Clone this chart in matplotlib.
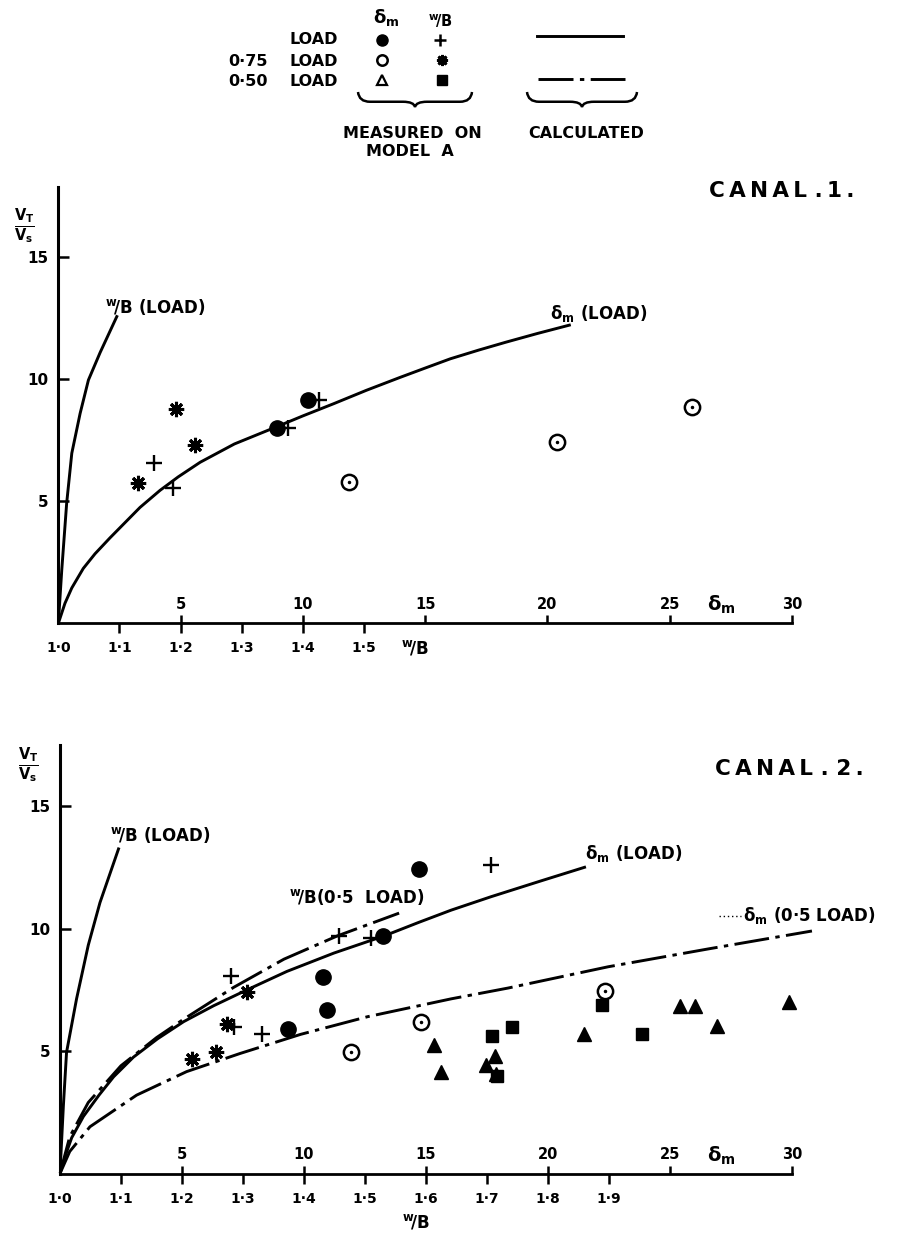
import matplotlib
matplotlib.use('Agg')
import matplotlib.pyplot as plt
from matplotlib.path import Path
from matplotlib.patches import PathPatch
import numpy as np

plt.rcParams['font.family'] = 'DejaVu Sans'
plt.rcParams['font.weight'] = 'bold'
plt.rcParams['mathtext.fontset'] = 'dejavusans'
plt.rcParams['mathtext.default'] = 'bf'

# ---------------- data ----------------
# x values: delta_m series in delta_m units, w/B series in w/B units
# canal 1 - calculated curves
c1_wb_load_w = [1.0, 1.0056, 1.0136, 1.022, 1.0356, 1.0492, 1.0684, 1.0956]
c1_wb_load_v = [0.0, 2.19, 4.92, 6.97, 8.6, 9.97, 11.1, 12.57]
c1_dm_load_d = [0.0, 0.27, 0.55, 1.02, 1.5, 2.11, 2.7, 3.34, 4.16, 4.9, 5.8, 7.2, 8.94,
                10.0, 11.26, 12.6, 13.98, 15.0, 16.03, 17.2, 18.3, 19.6, 20.9]
c1_dm_load_v = [0.0, 0.82, 1.45, 2.25, 2.85, 3.5, 4.1, 4.75, 5.45, 6.0, 6.6, 7.35, 8.06,
                8.5, 9.0, 9.55, 10.08, 10.46, 10.84, 11.2, 11.52, 11.88, 12.22]
# canal 1 - measured on model A
c1_dm_full_d = [8.94, 10.23]
c1_dm_full_v = [7.99, 9.15]
c1_wb_full_w = [1.157, 1.188, 1.376, 1.427]
c1_wb_full_v = [6.56, 5.53, 7.99, 9.15]
c1_dm_75_d = [11.87, 20.38, 25.9]
c1_dm_75_v = [5.81, 7.44, 8.88]
c1_wb_75_w = [1.131, 1.193, 1.224]
c1_wb_75_v = [5.74, 8.77, 7.31]

# canal 2 - calculated curves
c2_wb_load_w = [1.0, 1.0056, 1.0108, 1.0272, 1.0464, 1.0656, 1.096]
c2_wb_load_v = [0.0, 2.77, 4.95, 7.13, 9.32, 11.06, 13.25]
c2_dm_load_d = [0.0, 0.27, 0.48, 0.96, 1.6, 2.2, 3.01, 4.0, 5.07, 6.3, 7.67, 9.3, 11.23,
                13.29, 14.7, 16.03, 17.67, 19.73, 21.5]
c2_dm_load_v = [0.0, 0.87, 1.46, 2.33, 3.2, 3.95, 4.75, 5.5, 6.2, 6.85, 7.5, 8.25, 9.0,
                9.7, 10.25, 10.75, 11.3, 11.95, 12.5]
c2_wb_half_w = [1.0, 1.016, 1.0464, 1.1, 1.1584, 1.2028, 1.2848, 1.3672, 1.4548, 1.556]
c2_wb_half_v = [0.0, 1.5, 2.9, 4.4, 5.55, 6.3, 7.6, 8.75, 9.7, 10.63]
c2_dm_half_d = [0.0, 0.4, 1.23, 3.14, 5.19, 7.38, 9.86, 12.6, 16.03, 18.36, 22.47, 26.58, 30.82]
c2_dm_half_v = [0.0, 0.9, 1.91, 3.2, 4.16, 4.9, 5.68, 6.4, 7.13, 7.57, 8.44, 9.17, 9.9]
# canal 2 - measured on model A
c2_dm_full_d = [14.73, 13.22, 10.79, 10.93, 9.34]
c2_dm_full_v = [12.45, 9.68, 8.03, 6.67, 5.90]
c2_wb_full_w = [1.280, 1.457, 1.510, 1.332, 1.285, 1.706]
c2_wb_full_v = [8.08, 9.68, 9.61, 5.68, 5.97, 12.59]
c2_wb_75_w = [1.307, 1.274, 1.216, 1.255]
c2_wb_75_v = [7.42, 6.11, 4.66, 4.95]
c2_dm_75_d = [11.92, 14.79, 22.33]
c2_dm_75_v = [4.95, 6.19, 7.45]
c2_dm_50_d = [15.34, 15.62, 17.47, 17.81, 17.88, 21.48, 25.41, 26.03, 26.92, 29.89]
c2_dm_50_v = [5.24, 4.15, 4.44, 4.80, 4.08, 5.68, 6.84, 6.84, 6.04, 6.99]
c2_wb_50_w = [1.708, 1.741, 1.888, 1.954, 1.717]
c2_wb_50_v = [5.60, 6.0, 6.87, 5.71, 4.0]

dm_ticks = [5, 10, 15, 20, 25, 30]
c1_wb_ticks = [1.0, 1.1, 1.2, 1.3, 1.4, 1.5]
c2_wb_ticks = [1.0, 1.1, 1.2, 1.3, 1.4, 1.5, 1.6, 1.7, 1.8, 1.9]
v_ticks = [5, 10, 15]


def w2d(w):
    return (np.asarray(w, dtype=float) - 1.0) * 25.0


def d2w(d):
    return 1.0 + np.asarray(d, dtype=float) / 25.0


WB = r'$^{w}\!/B$'
DM = r'$\delta_{m}$'
DASHDOT = (0, (12, 2.2, 1.5, 2.2))
LW = 2.1
TS = '\u2009'


def spaced(s):
    return TS.join(s)


def setup(ax, ytop, wb_ticks, wb_label_y):
    ax.set_xlim(0, 32)
    ax.set_ylim(0, ytop)
    ax.patch.set_visible(False)
    for s in ['top', 'right']:
        ax.spines[s].set_visible(False)
    ax.spines['left'].set_linewidth(2.2)
    ax.spines['bottom'].set_linewidth(2.0)
    ax.spines['bottom'].set_bounds(0, 30)
    ax.set_yticks(v_ticks)
    ax.tick_params(axis='y', direction='in', length=8, width=1.8, labelsize=11, pad=7)
    ax.set_xticks(dm_ticks)
    ax.tick_params(axis='x', direction='in', length=6, width=1.8, labelsize=10.5, pad=-19)
    sec = ax.secondary_xaxis('bottom', functions=(d2w, w2d))
    sec.set_xticks(wb_ticks)
    sec.set_xticklabels([('%.1f' % t).replace('.', '\u00b7') for t in wb_ticks])
    sec.spines['bottom'].set_visible(False)
    sec.tick_params(direction='out', length=7, width=1.8, labelsize=10, pad=6)
    sec.xaxis.get_major_ticks()[0].tick1line.set_visible(False)
    ax.annotate(DM, xy=(27.1, 0), xytext=(0, 13), textcoords='offset points',
                ha='center', va='center', fontsize=14, annotation_clip=False)
    ax.annotate(WB, xy=(14.6, 0), xytext=(0, wb_label_y), textcoords='offset points',
                ha='center', va='center', fontsize=12, annotation_clip=False)


def open_dot(ax, x, y):
    ax.plot(x, y, 'o', mfc='none', mec='black', ms=11, mew=1.8, ls='none')
    ax.plot(x, y, '.', color='black', ms=3, ls='none')


fig = plt.figure(figsize=(8.99, 12.37), dpi=100)

# ---------------- legend block (pixel coords) ----------------
lg = fig.add_axes([0, 0, 1, 1])
lg.set_xlim(0, 899)
lg.set_ylim(1237, 0)
lg.axis('off')
for txt, y in [('LOAD', 39), ('LOAD', 61), ('LOAD', 81)]:
    lg.text(338, y, txt, ha='right', va='center', fontsize=11.5)
lg.text(268, 61, '0\u00b775', ha='right', va='center', fontsize=11.5)
lg.text(268, 81, '0\u00b750', ha='right', va='center', fontsize=11.5)
lg.text(386, 18, DM, ha='center', va='center', fontsize=13)
lg.text(440, 21, WB, ha='center', va='center', fontsize=10.5)
lg.plot([382], [40], 'o', color='black', ms=8)
lg.plot([440], [40], '+', color='black', ms=9, mew=1.8)
lg.plot([382], [60], 'o', mfc='none', mec='black', ms=7.5, mew=1.8)
lg.plot([442], [60], marker=(8, 2, 0), color='black', ms=8, mew=2)
lg.plot([382], [80], '^', mfc='none', mec='black', ms=6.5, mew=1.6)
lg.plot([442], [80], 's', color='black', ms=7)
lg.plot([537, 623], [36, 36], color='black', lw=LW)
lg.plot([538, 625], [79, 79], color='black', lw=LW, ls=DASHDOT)


def brace(x0, x1, y0, h, c=12):
    xm = (x0 + x1) / 2.0
    yb = y0 + 0.65 * h
    verts = [(x0, y0), (x0 + 1, yb), (x0 + c, yb),
             (xm - c, yb),
             (xm - 1, yb), (xm, y0 + h),
             (xm + 1, yb), (xm + c, yb),
             (x1 - c, yb),
             (x1 - 1, yb), (x1, y0)]
    codes = [Path.MOVETO, Path.CURVE3, Path.CURVE3, Path.LINETO,
             Path.CURVE3, Path.CURVE3, Path.CURVE3, Path.CURVE3,
             Path.LINETO, Path.CURVE3, Path.CURVE3]
    lg.add_patch(PathPatch(Path(verts, codes), fc='none', ec='black', lw=1.8))


brace(358, 472, 92, 15)
brace(527, 637, 92, 15)
lg.text(412, 133, 'MEASURED  ON', ha='center', va='center', fontsize=11.5)
lg.text(410, 151, 'MODEL  A', ha='center', va='center', fontsize=11.5)
lg.text(586, 133, 'CALCULATED', ha='center', va='center', fontsize=11.5)

# ---------------- canal 1 ----------------
ax1 = fig.add_axes([0.0649, 0.4961, 0.8703, 0.3531])
setup(ax1, 17.9, c1_wb_ticks, -18)
ax1.plot(w2d(c1_wb_load_w), c1_wb_load_v, color='black', lw=LW)
ax1.plot(c1_dm_load_d, c1_dm_load_v, color='black', lw=LW)
ax1.plot(w2d(c1_wb_full_w), c1_wb_full_v, '+', color='black', ms=11, mew=1.7, ls='none')
ax1.plot(c1_dm_full_d, c1_dm_full_v, 'o', color='black', ms=11, ls='none')
ax1.plot(w2d(c1_wb_75_w), c1_wb_75_v, marker=(8, 2, 0), color='black', ms=11, mew=2.2, ls='none')
open_dot(ax1, c1_dm_75_d, c1_dm_75_v)
ax1.text(1.9, 12.96, WB + ' (LOAD)', ha='left', va='center', fontsize=12)
ax1.text(20.1, 12.7, DM + ' (LOAD)', ha='left', va='center', fontsize=12)
ax1.text(26.6, 17.7, spaced('CANAL') + ' ' + spaced('.1.'), ha='left', va='center',
         fontsize=15.5)
fig.text(24 / 899, 1 - 226 / 1237, r'$\frac{V_T}{V_s}$', ha='center', va='center', fontsize=15)

# ---------------- canal 2 ----------------
ax2 = fig.add_axes([0.0667, 0.0513, 0.8685, 0.3466])
setup(ax2, 17.5, c2_wb_ticks, -35)
ax2.plot(w2d(c2_wb_load_w), c2_wb_load_v, color='black', lw=LW)
ax2.plot(c2_dm_load_d, c2_dm_load_v, color='black', lw=LW)
ax2.plot(w2d(c2_wb_half_w), c2_wb_half_v, color='black', lw=LW, ls=DASHDOT)
ax2.plot(c2_dm_half_d, c2_dm_half_v, color='black', lw=LW, ls=DASHDOT, clip_on=False)
ax2.plot(w2d(c2_wb_full_w), c2_wb_full_v, '+', color='black', ms=11, mew=1.7, ls='none')
ax2.plot(c2_dm_full_d, c2_dm_full_v, 'o', color='black', ms=11, ls='none')
ax2.plot(w2d(c2_wb_75_w), c2_wb_75_v, marker=(8, 2, 0), color='black', ms=11, mew=2.2, ls='none')
open_dot(ax2, c2_dm_75_d, c2_dm_75_v)
ax2.plot(c2_dm_50_d, c2_dm_50_v, '^', color='black', ms=10, ls='none')
ax2.plot(w2d(c2_wb_50_w), c2_wb_50_v, 's', color='black', ms=9, ls='none')
ax2.text(2.05, 13.8, WB + ' (LOAD)', ha='left', va='center', fontsize=12)
ax2.text(9.38, 11.3, WB + '(0\u00b75  LOAD)', ha='left', va='center', fontsize=12)
ax2.text(21.5, 13.07, DM + ' (LOAD)', ha='left', va='center', fontsize=12)
ax2.plot([27.0, 27.9], [10.5, 10.5], color='black', lw=1, ls=(0, (1, 2)), clip_on=False)
ax2.text(28.0, 10.55, DM + ' (0\u00b75 LOAD)', ha='left', va='center', fontsize=12, clip_on=False)
ax2.text(26.85, 16.5, spaced('CANAL') + ' ' + spaced('.') + ' ' + spaced('2.'), ha='left',
         va='center', fontsize=15.5)
fig.text(28 / 899, 1 - 765 / 1237, r'$\frac{V_T}{V_s}$', ha='center', va='center', fontsize=15)

fig.savefig('out.png', dpi=100)
